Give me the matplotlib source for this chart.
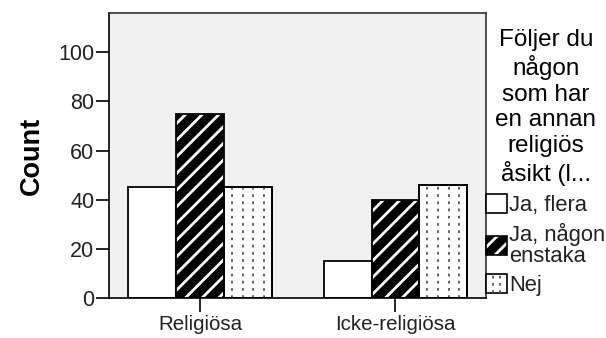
import numpy as np
import matplotlib.pyplot as plt
from matplotlib.patches import Rectangle, Patch
from matplotlib.lines import Line2D
from matplotlib.legend_handler import HandlerBase

plt.rcParams['font.family'] = ['Liberation Sans', 'DejaVu Sans']
plt.rcParams['hatch.linewidth'] = 2.0

categories = ['Religiösa', 'Icke-religiösa']
series = ['Ja, flera', 'Ja, någon\nenstaka', 'Nej']
ja_flera = [45, 15]
ja_nagon = [75, 40]
nej = [45, 46]
legend_title = 'Följer du\nnågon\nsom har\nen annan\nreligiös\nåsikt (l...'


def dotted_lines(ax, bar, n=4):
    # vertical dotted lines inside a bar, clipped to it
    x0, w = bar.get_x(), bar.get_width()
    h = bar.get_height()
    for k in range(n):
        xx = x0 + w * (k + 0.75) / (n + 0.5)
        ln = Line2D([xx, xx], [0, h], color='#555555', lw=1.3,
                    linestyle=(0, (1.5, 2.5)), zorder=3)
        ln.set_clip_path(bar)
        ax.add_line(ln)


class DottedHandler(HandlerBase):
    def create_artists(self, legend, orig_handle, xdescent, ydescent,
                       width, height, fontsize, trans):
        r = Rectangle((-xdescent, -ydescent), width, height, facecolor='white',
                      edgecolor='black', lw=1.2, transform=trans)
        arts = [r]
        for k in range(2):
            xx = -xdescent + width * (k + 1) / 3
            ln = Line2D([xx, xx], [-ydescent, -ydescent + height], color='#555555',
                        lw=1.3, linestyle=(0, (1.5, 2.5)), transform=trans)
            arts.append(ln)
        return arts


fig = plt.figure(figsize=(6.06, 3.38), dpi=100)
ax = fig.add_axes([0.180, 0.118, 0.622, 0.844])
ax.set_facecolor('#f0f0f0')

x = np.arange(len(categories))
w = 0.245

ax.bar(x - w, ja_flera, w, color='white', edgecolor='black', lw=1.3, zorder=2)
ax.bar(x, ja_nagon, w, color='black', edgecolor='white', hatch='//', lw=0, zorder=2)
ax.bar(x, ja_nagon, w, color='none', edgecolor='black', lw=1.3, zorder=4)
nej_bars = ax.bar(x + w, nej, w, color='white', edgecolor='black', lw=1.3, zorder=2)
for b in nej_bars:
    dotted_lines(ax, b)
ax.bar(x + w, nej, w, color='none', edgecolor='black', lw=1.3, zorder=4)

ax.set_xlim(-0.465, 1.463)
ax.set_ylim(0, 116)
ax.set_yticks(range(0, 101, 20))
ax.set_xticks(x)
ax.set_xticklabels(categories, fontsize=14.8, color='#222222')
ax.tick_params(axis='y', labelsize=15.5, length=9.5, width=1.2, pad=1, labelcolor='#222222')
ax.tick_params(axis='x', length=10, width=1.2, pad=2)
for s in ax.spines.values():
    s.set_linewidth(1.2)
    s.set_color('#333333')
ax.spines['left'].set_color('black')
ax.spines['bottom'].set_color('black')
ax.set_ylabel('Count', fontsize=19.5, fontweight='bold', labelpad=10)

h1 = Patch(facecolor='white', edgecolor='black', lw=1.2)
h2 = (Patch(facecolor='black', edgecolor='white', hatch='//', lw=0),
      Patch(facecolor='none', edgecolor='black', lw=1.2))
h3 = Patch(facecolor='white', edgecolor='black')
leg = fig.legend([h1, h2, h3], series, title=legend_title,
                 loc='upper left', bbox_to_anchor=(486 / 606, 1 - 29 / 338),
                 frameon=False, fontsize=15.8, title_fontsize=17.5,
                 handlelength=0.95, handleheight=0.95, handletextpad=0.12,
                 borderpad=0, borderaxespad=0, labelspacing=0.3,
                 handler_map={h3: DottedHandler()})
leg.get_title().set_multialignment('center')
leg.get_title().set_linespacing(1.21)
leg._legend_box.sep = 6
for t in leg.get_texts():
    t.set_color('#222222')
    t.set_linespacing(1.0)

fig.savefig('out.png', dpi=100)
